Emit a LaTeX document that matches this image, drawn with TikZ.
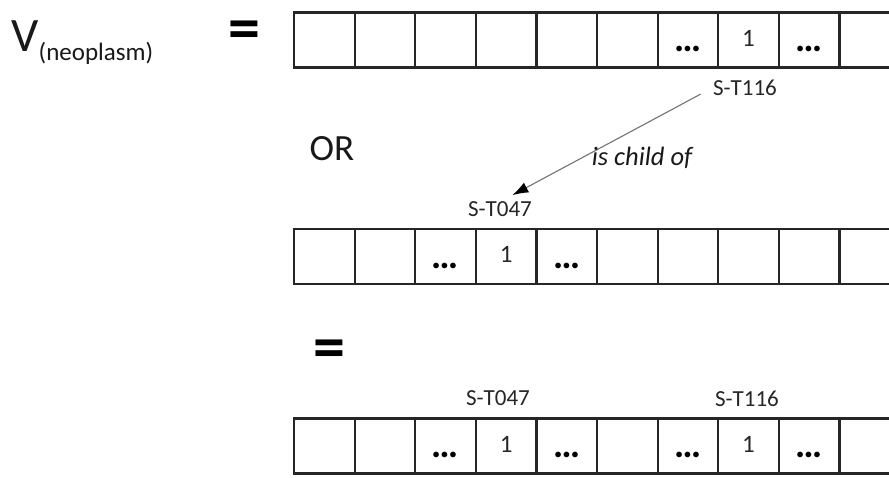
\documentclass[tikz,border=0pt]{standalone}
\usepackage{fontspec}
\setmainfont{Carlito}
\usetikzlibrary{arrows.meta,calc}
\begin{document}
\begin{tikzpicture}[x=1pt,y=-1pt,
  cell/.style={draw=black!85, line width=2.2pt, minimum width=60.6pt, minimum height=55pt, inner sep=0pt, outer sep=0pt},
  one/.style={inner sep=0pt, text=black!85, font=\fontsize{25}{28}\selectfont, yshift=2pt},
  dotsbox/.style={inner sep=0pt, font=\bfseries\fontsize{38}{40}\selectfont, yshift=-9pt},
  lbl/.style={inner sep=0pt, text=black!85, font=\fontsize{23}{26}\selectfont},
  eqs/.style={inner sep=0pt, font=\bfseries\fontsize{64}{66}\selectfont},
  bigtxt/.style={inner sep=0pt, text=black!90},
  rel/.style={draw=black!55, line width=1.1pt, -{Latex[length=16pt,width=11pt,color=black]}, shorten <=14pt, shorten >=14pt}
]
\useasboundingbox (0,0) rectangle (889,478);
\clip (0,0) rectangle (889,478);
\fill[white] (0,0) rectangle (889,478);

% left-hand side
\node[bigtxt, font=\fontsize{48}{50}\selectfont] (v) at (25,36.5) {V};
\node[bigtxt, font=\fontsize{25}{28}\selectfont] (vsub) at (96,53.5) {(neoplasm)};
\node[eqs] (eq1) at (244.5,35.5) {=};
\node[bigtxt, font=\fontsize{37}{40}\selectfont] (or) at (332,149) {OR};
\node[eqs] (eq2) at (329.5,354) {=};

% vectors
\foreach \r/\yy in {t/40,m/256.5,b/446}{
  \foreach \i in {1,...,10}{
    \node[cell] (\r\i) at ({294+60.6*(\i-0.5)},\yy) {};
  }
}

% top row contents
\node[dotsbox] at (t7) {…};
\node[one] at (t8) {1};
\node[dotsbox] at (t9) {…};
% middle row contents
\node[dotsbox] at (m3) {…};
\node[one] at (m4) {1};
\node[dotsbox] at (m5) {…};
% bottom row contents
\node[dotsbox] at (b3) {…};
\node[one] at (b4) {1};
\node[dotsbox] at (b5) {…};
\node[dotsbox] at (b7) {…};
\node[one] at (b8) {1};
\node[dotsbox] at (b9) {…};

% labels
\node[lbl] (t116) at (745,87.5) {S-T116};
\node[lbl] (m047) at (500,209.5) {S-T047};
\node[lbl] (b047) at (498,398.5) {S-T047};
\node[lbl] (b116) at (747,398.5) {S-T116};

% relation
\draw[rel] (t116.west) -- (m047.north);
\node[bigtxt, font=\itshape\fontsize{26.5}{28}\selectfont] (relt) at (642,158) {is child of};
\end{tikzpicture}
\end{document}
